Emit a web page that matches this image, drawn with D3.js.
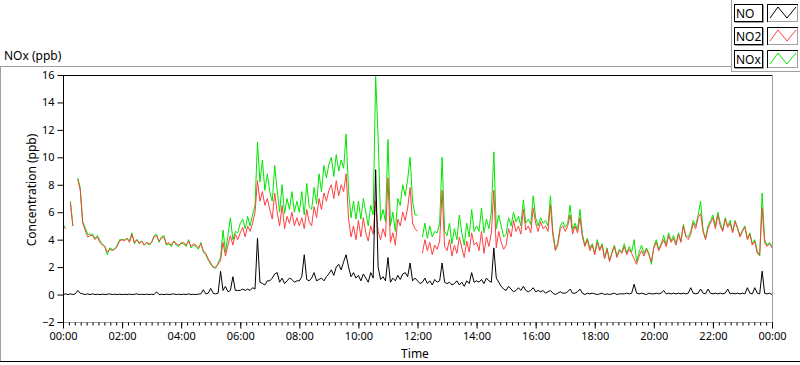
<!DOCTYPE html>
<html>
<head>
<meta charset="utf-8">
<script src="https://cdn.jsdelivr.net/npm/d3@7"></script>
<style>
  html, body { margin: 0; padding: 0; background: #fff; }
  svg { display: block; font-family: "Noto Sans", "Open Sans", sans-serif; }
</style>
</head>
<body>
<svg id="chart" width="800" height="365"></svg>
<script>
// ---- data (5-minute samples, 00:00 .. 24:00) ----
const seriesNames = ["NO", "NO2", "NOx"];
const seriesColors = ["#000000", "#ff4040", "#00e600"];
const stepMinutes = 5;
const yTicks = [-2, 0, 2, 4, 6, 8, 10, 12, 14, 16];
const title = "NOx (ppb)";
const yLabel = "Concentration (ppb)";
const xLabel = "Time";

const NO2 = [
  5.0, 4.8, null, 6.7, 5.0, null, 8.4, 7.6, 5.2, 4.7, 4.2, 4.3,
  4.3, 4.0, 4.2, 3.8, 3.6, 3.5, 3.1, 3.3, 3.2, 3.3, 3.5, 3.9,
  4.0, 3.9, 4.1, 3.8, 4.4, 3.8, 4.0, 3.7, 3.9, 3.6, 3.8, 3.7,
  3.8, 4.2, 4.3, 3.9, 4.1, 4.2, 3.7, 3.8, 3.6, 3.9, 3.7, 3.6,
  3.7, 3.8, 3.6, 3.9, 3.5, 3.7, 3.6, 3.4, 3.7, 3.2, 3.0, 2.6,
  2.3, 2.0, 2.0, 2.2, 2.5, 3.8, 2.8, 3.6, 4.3, 3.6, 4.4, 4.0,
  4.5, 4.9, 4.2, 5.0, 4.6, 5.2, 6.0, 8.3, 6.8, 7.5, 6.5, 7.0,
  6.2, 5.5, 7.4, 6.0, 5.0, 6.5, 4.8, 5.7, 5.2, 6.0, 5.0, 5.6,
  5.0, 5.6, 4.8, 6.2, 5.3, 5.0, 6.4, 5.6, 7.0, 6.2, 7.4, 6.8,
  7.6, 8.0, 7.0, 8.3, 7.2, 8.0, 7.5, 8.8, 5.5, 4.2, 5.0, 4.0,
  5.4, 4.2, 5.6, 4.5, 3.9, 5.0, 4.4, 6.8, 4.6, 4.0, 4.8, 4.2,
  8.5, 3.8, 4.5, 3.6, 5.5, 5.0, 6.0, 5.4, 6.3, 7.8, 5.2, 4.8,
  4.6, null, 3.0, 4.0, 3.2, 3.8, 2.9, 3.6, 3.3, 3.9, 7.6, 3.5,
  3.2, 4.0, 2.8, 3.6, 3.0, 4.2, 3.4, 2.7, 3.9, 3.1, 4.5, 3.6,
  3.8, 3.2, 4.6, 3.0, 4.2, 3.5, 4.5, 7.6, 3.4, 4.6, 3.8, 3.3,
  3.6, 4.8, 4.2, 5.4, 4.6, 5.0, 4.4, 6.2, 4.7, 5.0, 4.5, 6.3,
  5.2, 4.6, 5.3, 4.8, 5.0, 4.6, 6.5, 4.3, 3.2, 3.6, 4.8, 5.0,
  4.6, 5.0, 5.8, 4.4, 5.0, 4.5, 5.6, 4.2, 3.5, 4.0, 3.2, 3.6,
  2.9, 3.8, 3.2, 3.6, 2.6, 3.3, 2.4, 3.0, 3.5, 2.7, 3.2, 3.0,
  3.5, 2.9, 3.3, 3.0, 2.6, 2.2, 2.8, 3.2, 2.8, 3.3, 2.9, 2.4,
  3.4, 3.8, 3.2, 3.6, 4.0, 3.5, 4.3, 3.8, 4.1, 3.6, 4.4, 3.8,
  5.0, 4.2, 4.0, 4.4, 5.2, 4.8, 5.6, 5.9, 4.6, 4.0, 4.8, 5.2,
  5.6, 4.8, 5.8, 5.0, 4.6, 5.5, 4.9, 5.2, 4.5, 5.3, 4.8, 4.2,
  4.6, 4.9, 4.0, 4.4, 3.6, 3.9, 3.0, 2.9, 6.3, 3.8, 3.5, 3.7, 3.4
];

const NOx = [
  5.1, 4.9, null, 6.8, 5.0, null, 8.5, 7.8, 5.3, 4.9, 4.4, 4.4,
  4.4, 4.1, 4.3, 3.9, 3.7, 3.5, 2.9, 3.4, 3.3, 3.3, 3.6, 4.0,
  4.0, 4.0, 4.1, 3.9, 4.5, 3.7, 4.0, 3.8, 3.9, 3.6, 3.8, 3.6,
  3.8, 4.3, 4.4, 3.8, 4.2, 4.3, 3.6, 3.7, 3.5, 3.9, 3.6, 3.5,
  3.8, 3.7, 3.5, 4.0, 3.4, 3.6, 3.5, 3.3, 3.8, 3.1, 2.9, 2.5,
  2.2, 2.0, 1.9, 2.3, 2.7, 4.7, 3.1, 4.3, 5.6, 4.0, 4.6, 4.5,
  5.2, 5.5, 4.8, 5.7, 5.0, 5.8, 6.5, 11.1, 8.2, 9.8, 7.6, 8.8,
  7.5, 6.8, 9.4, 7.6, 6.0, 8.0, 5.9, 7.0, 6.2, 7.5, 6.0, 6.8,
  6.0, 7.5, 5.8, 8.1, 6.4, 6.2, 7.8, 6.6, 8.8, 7.5, 9.4, 8.5,
  9.5, 10.0, 8.6, 10.2, 9.0, 9.8, 9.2, 11.7, 7.5, 5.6, 6.8, 5.5,
  6.8, 5.5, 7.0, 6.0, 5.0, 6.5, 5.8, 15.9, 11.5, 5.4, 6.2, 5.3,
  11.3, 5.0, 6.0, 4.6, 7.0, 6.5, 8.0, 7.2, 8.4, 10.0, 6.8, 5.8,
  5.8, null, 4.2, 5.2, 4.1, 5.0, 4.2, 4.6, 4.5, 5.2, 10.0, 4.6,
  4.3, 5.2, 3.7, 4.8, 4.0, 5.8, 4.5, 3.6, 5.2, 4.2, 6.2, 4.6,
  5.0, 4.6, 6.3, 4.5, 5.5, 4.8, 6.0, 10.4, 4.8, 5.8, 5.0, 4.2,
  4.4, 5.6, 5.0, 6.0, 5.3, 5.7, 5.0, 6.9, 5.2, 5.5, 5.1, 7.2,
  5.6, 5.0, 5.6, 5.2, 5.4, 5.0, 7.2, 4.6, 3.3, 3.8, 5.0, 5.3,
  4.9, 5.2, 6.5, 4.7, 5.2, 4.7, 6.2, 4.4, 3.6, 4.1, 3.4, 3.7,
  3.0, 4.0, 3.3, 3.7, 2.7, 3.4, 2.5, 3.1, 3.6, 2.8, 3.3, 3.1,
  3.7, 3.0, 3.5, 3.1, 4.0, 2.4, 3.1, 3.6, 3.0, 3.4, 3.0, 2.2,
  3.5, 4.0, 3.3, 3.7, 4.3, 3.6, 4.5, 3.9, 4.3, 3.7, 4.5, 3.9,
  5.1, 4.3, 4.2, 4.6, 5.4, 5.0, 5.8, 6.8, 4.7, 4.1, 5.0, 5.4,
  5.8, 5.0, 6.0, 5.2, 4.7, 5.6, 5.0, 5.4, 4.6, 5.4, 4.9, 4.3,
  4.7, 5.0, 4.1, 4.5, 3.7, 4.0, 3.2, 2.8, 7.4, 4.0, 3.6, 3.8, 3.5
];

const NO = [
  0.0, 0.05, 0.0, 0.05, 0.0, 0.05, 0.3, 0.1, 0.05, 0.0, 0.05, 0.0,
  0.05, 0.0, 0.02, 0.0, 0.03, 0.0, 0.02, 0.05, 0.0, 0.02, 0.0, 0.03,
  0.0, 0.02, 0.0, 0.03, 0.0, 0.02, 0.05, 0.0, 0.02, 0.0, 0.03, 0.0,
  0.02, 0.0, 0.2, 0.0, 0.02, 0.0, 0.03, 0.0, 0.02, 0.05, 0.0, 0.02,
  0.0, 0.03, 0.0, 0.05, 0.0, 0.02, 0.0, 0.03, 0.05, 0.35, 0.05, 0.1,
  0.45, 0.1, 0.05, 0.1, 1.7, 0.3, 0.6, 0.2, 0.3, 1.3, 0.3, 0.3,
  0.3, 0.4, 0.3, 0.4, 0.3, 0.5, 0.4, 4.1, 0.9, 0.8, 0.7, 1.0,
  1.0, 1.2, 1.5, 1.6, 0.9, 1.2, 0.8, 1.0, 1.2, 1.1, 0.9, 1.0,
  1.0, 1.3, 2.9, 1.1, 1.0, 1.2, 1.6, 1.0, 1.1, 1.2, 1.0, 1.3,
  1.5, 1.8, 1.4, 2.0, 2.2, 1.8, 2.4, 2.9, 2.0, 1.3, 1.6, 1.2,
  1.4, 1.0, 1.5, 1.2, 0.9, 1.6, 1.2, 9.1, 2.0, 1.1, 1.3, 1.0,
  2.7, 0.9, 1.2, 1.0, 1.4, 1.1, 1.5, 1.6, 1.3, 2.3, 1.0, 1.2,
  1.0, 0.8, 0.9, 1.2, 0.8, 1.0, 0.7, 1.1, 0.9, 1.0, 2.3, 0.9,
  0.8, 0.9, 0.7, 0.8, 1.0, 0.7, 0.9, 0.6, 1.0, 0.8, 1.6, 0.9,
  1.0, 0.9, 1.1, 0.8, 1.2, 1.0, 0.9, 3.4, 1.2, 0.9, 0.6, 0.4,
  0.3, 0.6, 0.4, 0.2, 0.3, 0.5, 0.3, 0.6, 0.3, 0.2, 0.3, 0.5,
  0.2, 0.3, 0.2, 0.3, 0.1, 0.2, 0.3, 0.1, 0.0, 0.1, 0.2, 0.1,
  0.1, 0.2, 0.4, 0.1, 0.1, 0.2, 0.4, 0.1, 0.0, 0.1, 0.05, 0.1,
  0.05, 0.0, 0.05, 0.1, 0.0, 0.05, 0.0, 0.05, 0.1, 0.0, 0.05, 0.05,
  0.05, 0.1, 0.05, 0.1, 0.75, 0.1, 0.05, 0.1, 0.05, 0.0, 0.1, 0.05,
  0.05, 0.1, 0.05, 0.1, 0.3, 0.05, 0.1, 0.05, 0.1, 0.05, 0.1, 0.05,
  0.1, 0.05, 0.1, 0.5, 0.1, 0.05, 0.1, 0.4, 0.1, 0.05, 0.4, 0.1,
  0.05, 0.1, 0.05, 0.1, 0.05, 0.1, 0.4, 0.05, 0.1, 0.05, 0.1, 0.05,
  0.1, 0.05, 0.5, 0.1, 0.05, 0.5, 0.1, 0.05, 1.7, 0.1, 0.05, 0.1, 0.0
];

const seriesData = [NO, NO2, NOx];

// ---- layout ----
const svg = d3.select("#chart");
const plot = { left: 63, right: 772, top: 75, bottom: 322 };
const t0 = new Date(2000, 0, 1, 0, 0);
const t1 = new Date(2000, 0, 2, 0, 0);
const timeAt = i => new Date(t0.getTime() + i * stepMinutes * 60000);

const x = d3.scaleTime().domain([t0, t1]).range([plot.left, plot.right]);
const y = d3.scaleLinear().domain([-2, 16]).range([plot.bottom, plot.top]);

// outer frame
svg.append("path").attr("d", "M0,66.5H731").attr("stroke", "#a0a0a0").attr("fill", "none");
svg.append("path").attr("d", "M0.5,66V362").attr("stroke", "#a0a0a0").attr("fill", "none");
svg.append("path").attr("d", "M0,361.5H800").attr("stroke", "#000").attr("fill", "none");
svg.append("path").attr("d", "M731.5,0V72").attr("stroke", "#a0a0a0").attr("fill", "none");
svg.append("path").attr("d", "M731,71.5H800").attr("stroke", "#a0a0a0").attr("fill", "none");

svg.append("text").attr("x", 4).attr("y", 60).attr("font-size", 12).attr("fill", "#000").text(title);

// clip
svg.append("clipPath").attr("id", "clip").append("rect")
  .attr("x", plot.left).attr("y", plot.top)
  .attr("width", plot.right - plot.left).attr("height", plot.bottom - plot.top);

// series (NOx behind, NO2, NO on top)
const gLines = svg.append("g").attr("clip-path", "url(#clip)");
[2, 1, 0].forEach(k => {
  const line = d3.line()
    .defined(d => d != null)
    .x((d, i) => x(timeAt(i)))
    .y(d => y(d));
  gLines.append("path")
    .datum(seriesData[k])
    .attr("d", line)
    .attr("fill", "none")
    .attr("stroke", seriesColors[k])
    .attr("stroke-width", 1);
});

// plot border (sunken look)
svg.append("path").attr("d", `M${plot.left},${plot.top + 0.5}H${plot.right}`).attr("stroke", "#000");
svg.append("path").attr("d", `M${plot.left + 0.5},${plot.top}V${plot.bottom}`).attr("stroke", "#000");
svg.append("path").attr("d", `M${plot.right + 0.5},${plot.top}V${plot.bottom + 1}`).attr("stroke", "#a0a0a0");
svg.append("path").attr("d", `M${plot.left},${plot.bottom + 0.5}H${plot.right + 1}`).attr("stroke", "#a0a0a0");

// y axis
const yAxis = svg.append("g").attr("transform", `translate(${plot.left + 0.5},0)`)
  .call(d3.axisLeft(y).tickValues(yTicks).tickSize(6).tickPadding(3).tickFormat(d3.format("d")));
yAxis.select(".domain").remove();
yAxis.selectAll("text").attr("font-size", 11).attr("font-family", "Noto Sans, sans-serif").attr("fill", "#000");
yAxis.selectAll("line").attr("stroke", "#000");

// x axis minor
const xMinor = svg.append("g").attr("transform", `translate(0,${plot.bottom + 0.5})`)
  .call(d3.axisBottom(x).ticks(d3.timeMinute.every(12)).tickSize(3).tickFormat(""));
xMinor.select(".domain").remove();
xMinor.selectAll("line").attr("stroke", "#000");

// x axis major
const xAxis = svg.append("g").attr("transform", `translate(0,${plot.bottom + 0.5})`)
  .call(d3.axisBottom(x).ticks(d3.timeHour.every(2)).tickSize(6).tickPadding(4)
    .tickFormat(d3.timeFormat("%H:%M")));
xAxis.select(".domain").remove();
xAxis.selectAll("text").attr("font-size", 11).attr("font-family", "Noto Sans, sans-serif").attr("fill", "#000");
xAxis.selectAll("line").attr("stroke", "#000");

// axis titles
svg.append("text")
  .attr("transform", `translate(36,190) rotate(-90)`)
  .attr("text-anchor", "middle").attr("font-size", 12).attr("fill", "#000")
  .text(yLabel);
svg.append("text")
  .attr("x", 415).attr("y", 358)
  .attr("text-anchor", "middle").attr("font-size", 12).attr("fill", "#000")
  .text(xLabel);

// legend
const legendRowTop = [4, 27, 50];
const legend = svg.append("g");
seriesNames.forEach((name, k) => {
  const top = legendRowTop[k];
  const g = legend.append("g").attr("transform", `translate(0,${top})`);
  // name box
  g.append("rect").attr("x", 734.5).attr("y", 0.5).attr("width", 28).attr("height", 17)
    .attr("fill", "#fff").attr("stroke", "#000");
  g.append("path").attr("d", "M763.5,1V19M735,18.5H764").attr("stroke", "#a0a0a0").attr("fill", "none");
  g.append("text").attr("x", 736).attr("y", 14).attr("font-size", 12).attr("fill", "#000").text(name);
  // sample box
  g.append("rect").attr("x", 767.5).attr("y", 0.5).attr("width", 30).attr("height", 17)
    .attr("fill", "#fff").attr("stroke", "#a0a0a0");
  g.append("path").attr("d", "M767.5,18V0.5H798").attr("stroke", "#000").attr("fill", "none");
  g.append("path").attr("d", "M770,14L778,3L787,14L796,3")
    .attr("stroke", seriesColors[k]).attr("fill", "none").attr("stroke-width", 1);
});
</script>
</body>
</html>
